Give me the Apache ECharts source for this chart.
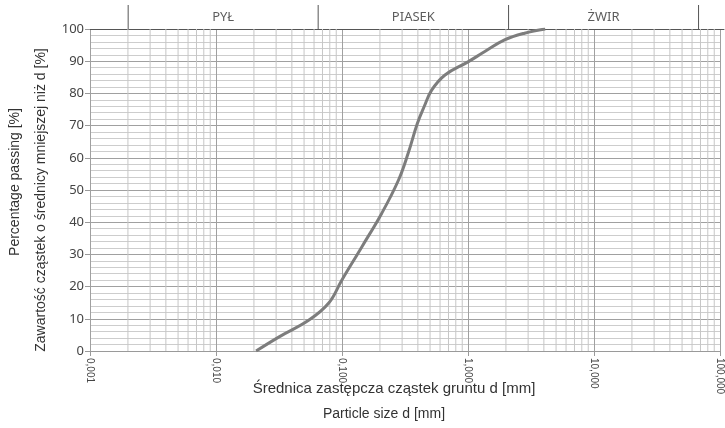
<!DOCTYPE html>
<html>
<head>
<meta charset="utf-8">
<script src="https://cdn.jsdelivr.net/npm/echarts@6/dist/echarts.min.js"></script>
<style>
  html, body { margin: 0; padding: 0; background: #fff; }
  #chart { width: 725px; height: 428px; }
</style>
</head>
<body>
<div id="chart"></div>
<script>
// krzywa uziarnienia: srednica [mm] i procent przechodzacy [%]
const diameters = [0.0208, 0.0317, 0.0547, 0.0785, 0.0996, 0.144, 0.207, 0.281, 0.335, 0.395, 0.45, 0.515, 0.657, 1.0, 1.36, 1.95, 2.81, 4.1]
const passing = [0, 4.4, 9.6, 14.9, 22, 32.4, 42.8, 53.1, 61.4, 70.5, 76, 81, 85.7, 89.8, 93, 96.6, 98.7, 100]

// frakcje w pasku nad wykresem
const fractionBounds = [0.002, 0.063, 2, 63]
const fractionNames = ['PYŁ', 'PIASEK', 'ŻWIR']

const xMin = 0.001
const xMax = 100
const decades = [0.001, 0.01, 0.1, 1, 10]
const minorSteps = [2, 3, 4, 5, 6, 7, 8, 9]

const minorLines = []
decades.forEach((d) => {
  minorSteps.forEach((n) => minorLines.push(+(d * n).toPrecision(3)))
})

const fmtLabel = (v) => Number(v).toFixed(3).replace('.', ',')

// pionowa linia siatki jako krotka seria
const vLine = (v, axis, yTop, color) => ({
  type: 'line',
  xAxisIndex: axis,
  yAxisIndex: axis,
  silent: true,
  showSymbol: false,
  z: 1,
  lineStyle: { color: color, width: 1 },
  data: [[v, 0], [v, yTop]]
})

const series = []
minorLines.forEach((v) => series.push(vLine(v, 0, 100, '#c6c6c6')))
fractionBounds.forEach((v) => series.push(vLine(v, 1, 1, '#555')))
series.push({
  // nazwy frakcji
  type: 'scatter',
  xAxisIndex: 1,
  yAxisIndex: 1,
  symbolSize: 0,
  silent: true,
  data: fractionNames.map((name, i) => ({
    value: [Math.sqrt(fractionBounds[i] * fractionBounds[i + 1]), 0.5],
    name: name
  })),
  label: {
    show: true,
    position: 'inside',
    formatter: (p) => p.name,
    fontSize: 13,
    color: '#333',
    fontFamily: 'Noto Sans'
  }
})
series.push({
  name: 'uziarnienie',
  type: 'line',
  xAxisIndex: 0,
  yAxisIndex: 0,
  smooth: 0.4,
  showSymbol: false,
  z: 5,
  lineStyle: { color: '#7d7d7d', width: 3 },
  data: diameters.map((d, i) => [d, passing[i]])
})

const chart = echarts.init(document.getElementById('chart'))
chart.setOption({
  animation: false,
  grid: [
    { left: 90, right: 2, top: 29, bottom: 77 },
    { left: 90, right: 1, top: 5, height: 24 }
  ],
  xAxis: [
    {
      type: 'log',
      gridIndex: 0,
      min: xMin,
      max: xMax,
      logBase: 10,
      axisLine: { show: true, lineStyle: { color: '#9a9a9a' } },
      axisTick: { show: true, length: 5, lineStyle: { color: '#9a9a9a' } },
      axisLabel: {
        rotate: -90,
        margin: 7,
        fontSize: 10,
        color: '#444',
        fontFamily: 'Liberation Sans',
        formatter: fmtLabel
      },
      splitLine: { show: true, lineStyle: { color: '#a0a0a0', width: 1 } }
    },
    {
      type: 'log',
      gridIndex: 1,
      min: xMin,
      max: xMax,
      position: 'top',
      axisLine: { show: true, lineStyle: { color: '#555', width: 1 } },
      axisTick: { show: false },
      axisLabel: { show: false },
      splitLine: { show: false }
    }
  ],
  yAxis: [
    {
      type: 'value',
      gridIndex: 0,
      min: 0,
      max: 100,
      interval: 10,
      axisLine: { show: false },
      axisTick: { show: true, length: 5, lineStyle: { color: '#9a9a9a' } },
      axisLabel: { margin: 6, fontSize: 13, color: '#444', fontFamily: 'Noto Sans' },
      splitLine: { show: true, lineStyle: { color: '#a0a0a0' } },
      minorTick: { show: false, splitNumber: 5 },
      minorSplitLine: { show: true, lineStyle: { color: '#cdcdcd' } }
    },
    {
      type: 'value',
      gridIndex: 1,
      min: 0,
      max: 1,
      show: false
    }
  ],
  series: series,
  graphic: [
    {
      type: 'text',
      x: 15,
      y: 182,
      rotation: Math.PI / 2,
      style: {
        text: 'Percentage passing [%]',
        font: '14px "Liberation Sans"',
        fill: '#333',
        textAlign: 'center',
        textVerticalAlign: 'middle'
      }
    },
    {
      type: 'text',
      x: 41,
      y: 200,
      rotation: Math.PI / 2,
      style: {
        text: 'Zawartość cząstek o średnicy mniejszej niż d [%]',
        font: '14px "Liberation Sans"',
        fill: '#333',
        textAlign: 'center',
        textVerticalAlign: 'middle'
      }
    },
    {
      type: 'text',
      x: 394,
      y: 389,
      style: {
        text: 'Średnica zastępcza cząstek gruntu d [mm]',
        font: '15px "Liberation Sans"',
        fill: '#333',
        textAlign: 'center',
        textVerticalAlign: 'middle'
      }
    },
    {
      type: 'text',
      x: 384,
      y: 414,
      style: {
        text: 'Particle size d [mm]',
        font: '14px "Liberation Sans"',
        fill: '#333',
        textAlign: 'center',
        textVerticalAlign: 'middle'
      }
    }
  ]
})
</script>
</body>
</html>
